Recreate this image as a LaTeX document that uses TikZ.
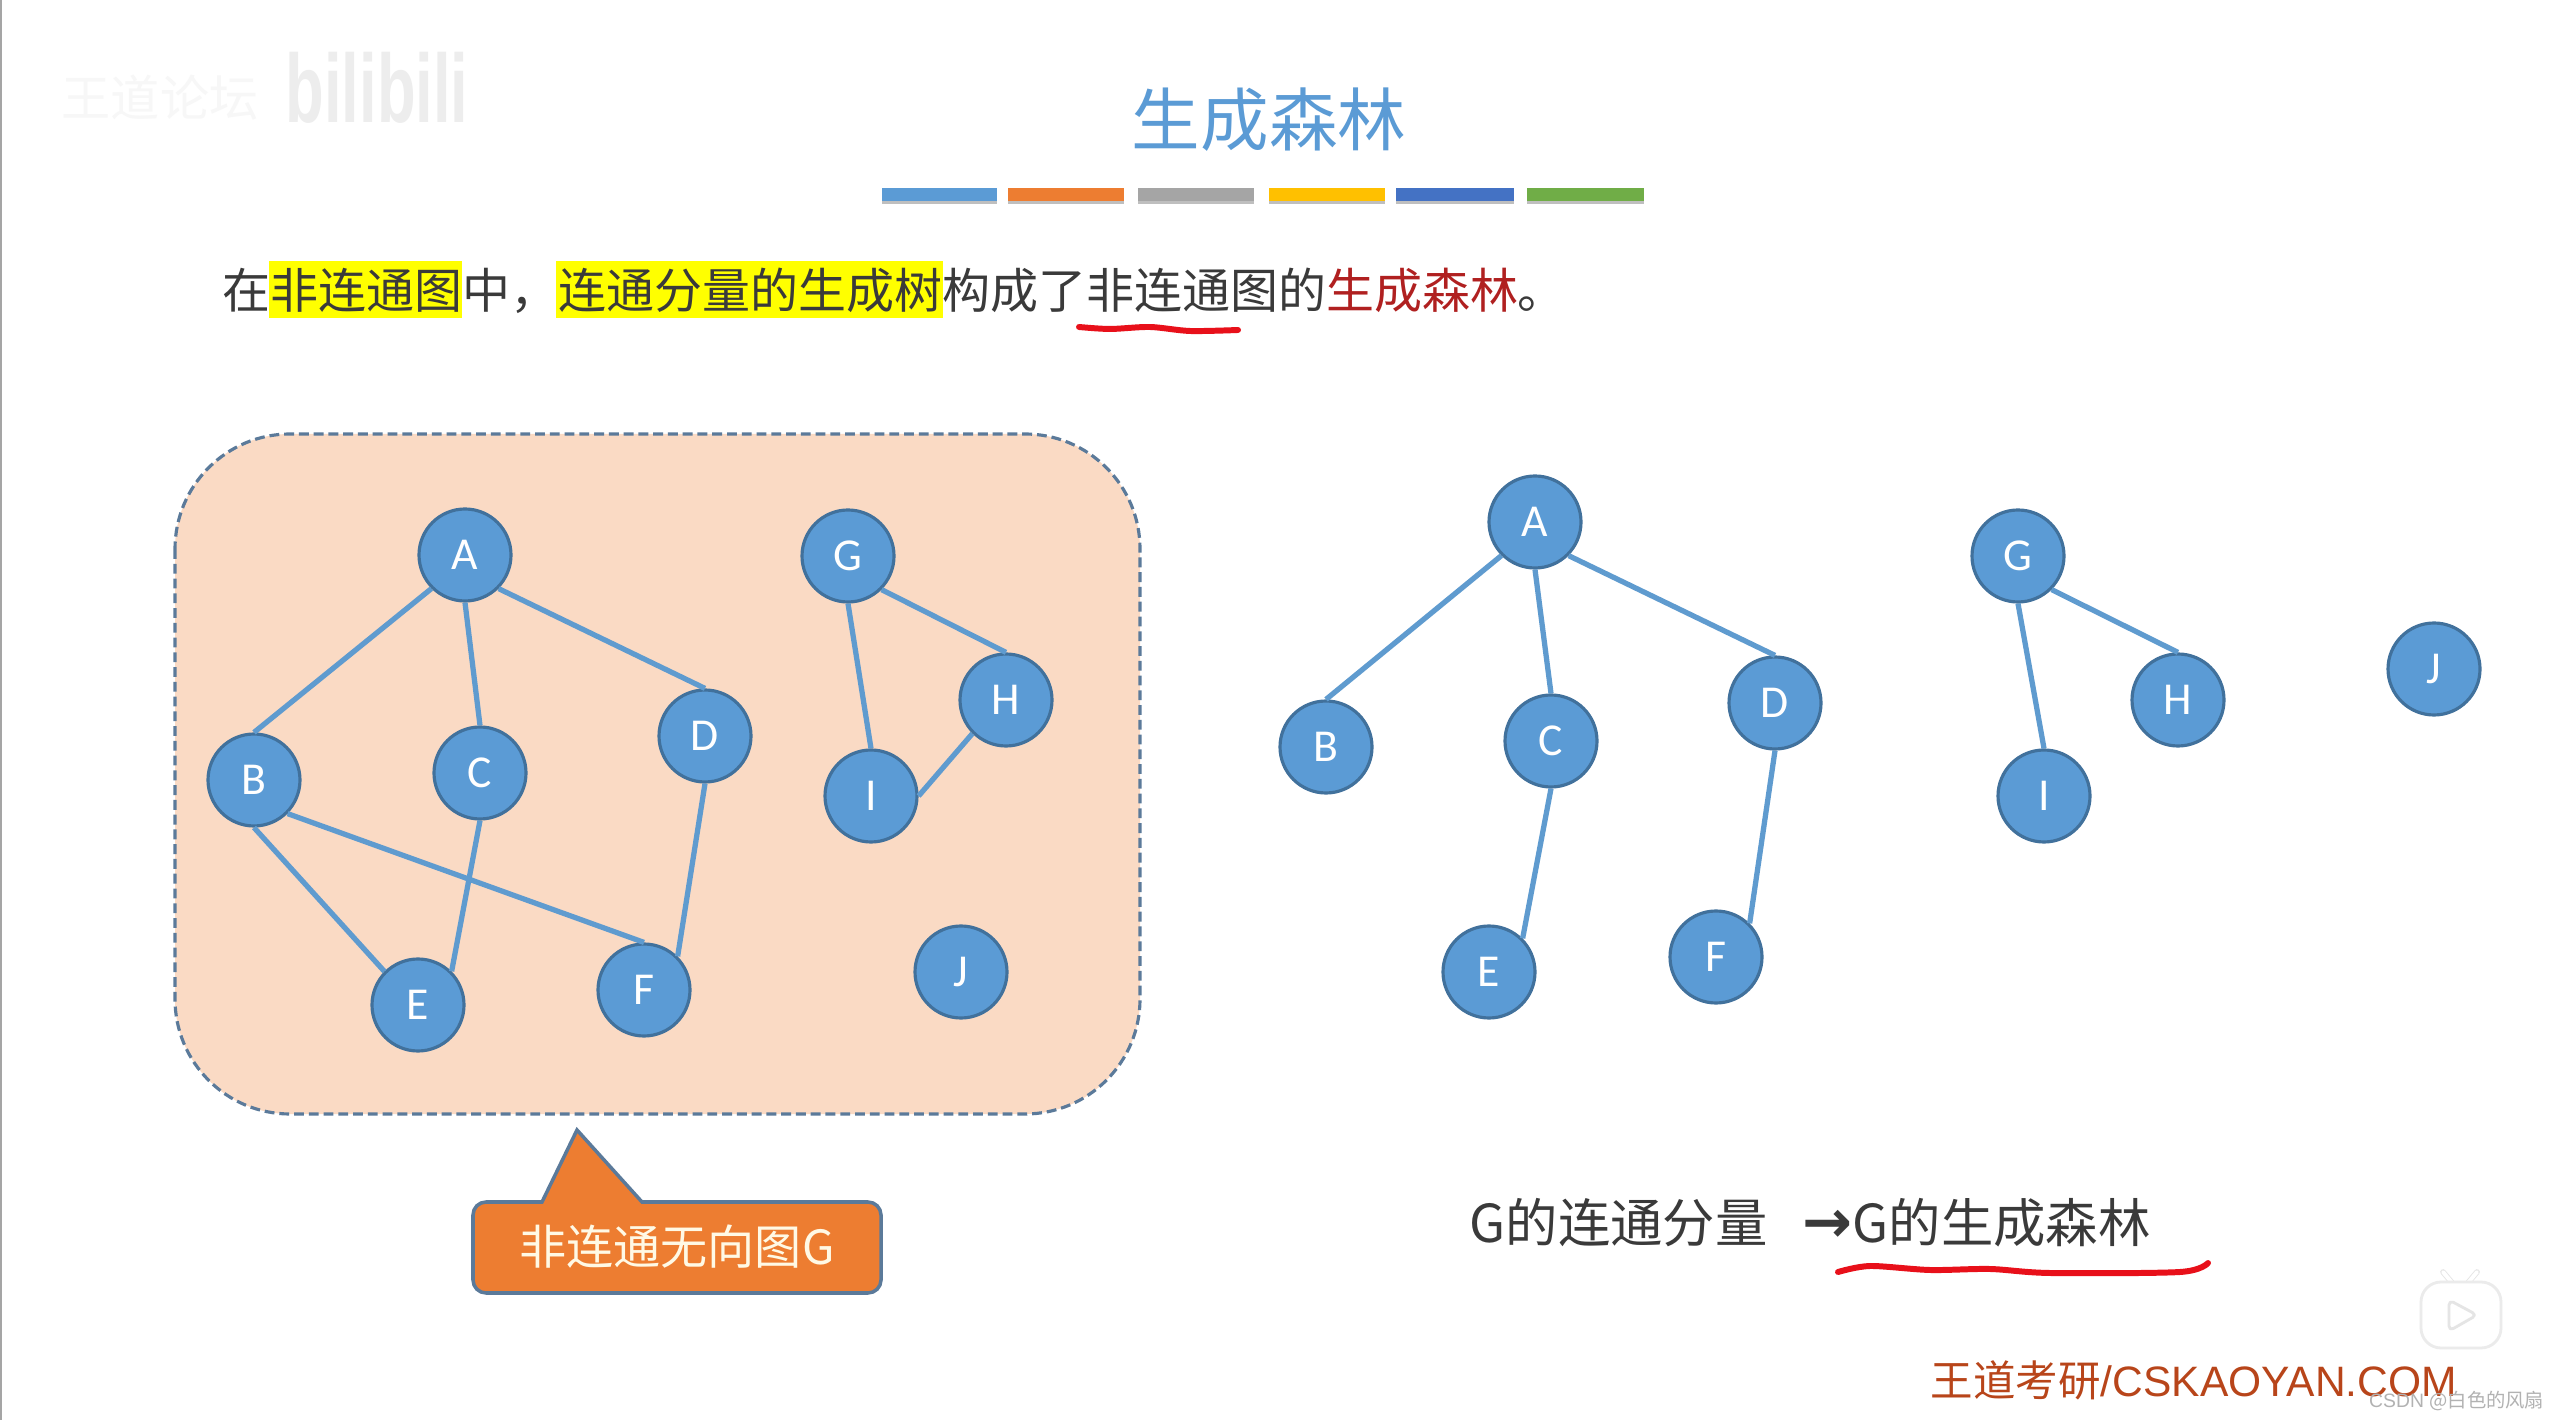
\documentclass[tikz,border=0pt]{standalone}
\usepackage{fontspec}
\setmainfont{Noto Sans CJK SC}
\newfontfamily\latinfont{Carlito}
\newfontfamily\arialfont{Liberation Sans}
\usepackage{xcolor}
\usetikzlibrary{positioning, arrows.meta, calc, backgrounds}
\definecolor{barBlue}    {HTML}{5B9BD5}
\definecolor{barOrange}  {HTML}{ED7D31}
\definecolor{barGray}    {HTML}{A5A5A5}
\definecolor{barGold}    {HTML}{FFC000}
\definecolor{barNavy}    {HTML}{4472C4}
\definecolor{barGreen}   {HTML}{70AD47}
\definecolor{cRegion}    {HTML}{FADAC4}
\definecolor{cBorder}    {HTML}{5B7A9A}
\definecolor{cNodeEdge}  {HTML}{41719C}
\definecolor{cLine}      {HTML}{5F9BCF}
\definecolor{cMark}      {HTML}{FFFF00}
\definecolor{cForest}    {HTML}{B02020}
\definecolor{cInk}       {HTML}{3A3A3A}
\definecolor{cPen}       {HTML}{E8101A}
\definecolor{cBrand}     {HTML}{B8451A}
\newlength{\unitlen}
\setlength{\unitlen}{0.1mm}
\tikzset{
  vertex/.style={circle, draw=cNodeEdge, line width=0.9pt, fill=barBlue, text=white,
    minimum size=92\unitlen, inner sep=0pt, font=\latinfont\fontsize{13}{13}\selectfont},
  link/.style={draw=cLine, line width=1.5pt},
  pen/.style={draw=cPen, line width=1.7pt, line cap=round, line join=round},
  bodytext/.style={text=cInk, inner sep=0pt, anchor=base west},
}
\begin{document}
\begin{tikzpicture}[x=0.1mm, y=-0.1mm]
  \useasboundingbox (0,0) rectangle (2558,1420);
  \fill[white] (0,0) rectangle (2558,1420);
  \draw[barGray, line width=0.8pt] (1,0) -- (1,1420);

  % faint channel mark
  \node[text=black!3, inner sep=0pt, font=\fontsize{14}{14}\selectfont] (channel) at (160,98) {王道论坛};
  \node[text=black!7, inner sep=0pt, xscale=.75, yscale=1.15, font=\arialfont\bfseries\fontsize{24}{24}\selectfont] (site) at (377,88) {bilibili};

  % title and colour bars
  \node[text=barBlue, inner sep=0pt, font=\fontsize{19.5}{19.5}\selectfont] (title) at (1269,120) {生成森林};
  \foreach \x/\w/\c in {882/115/barBlue, 1008/116/barOrange, 1138/116/barGray,
                        1269/116/barGold, 1396/118/barNavy, 1527/117/barGreen}{
    \fill[black!25] (\x,191) rectangle (\x+\w,204);
    \fill[\c] (\x,188) rectangle (\x+\w,201);
  }

  % sentence with its highlights
  \fill[cMark] (269,261) rectangle (462,318);
  \fill[cMark] (556,261) rectangle (943,318);
  \node[bodytext, font=\fontsize{13.65}{13.65}\selectfont] (sentence) at (222,309)
    {在非连通图中，连通分量的生成树构成了非连通图的\textcolor{cForest}{生成森林}。};
  \draw[pen] plot[smooth] coordinates {(1079,327) (1110,329) (1150,327) (1190,331) (1238,330)};

  % graph G
  \draw[draw=cBorder, fill=cRegion, line width=0.9pt, dash pattern=on 2.8pt off 1.4pt, rounded corners=115\unitlen]
    (175,434) rectangle (1140,1114);
  \foreach \n/\x/\y in {A/465/555, B/254/780, C/480/773, D/705/736, E/418/1005,
                        F/644/990, G/848/556, H/1006/700, I/871/796, J/961/972}{
    \node[vertex] (l\n) at (\x,\y) {\n};
  }
  \foreach \a/\p/\b/\q in {A/south west/B/north, A/south/C/north, A/south east/D/north,
                           B/south/E/north west, B/south east/F/north, C/south/E/north east,
                           D/south/F/north east, G/south east/H/north, G/south/I/north,
                           H/south west/I/east}{
    \draw[link] (l\a.\p) -- (l\b.\q);
  }

  % spanning forest
  \foreach \n/\x/\y in {A/1535/522, B/1326/747, C/1551/741, D/1775/703, E/1489/972,
                        F/1716/957, G/2018/556, H/2178/700, I/2044/796, J/2434/669}{
    \node[vertex] (r\n) at (\x,\y) {\n};
  }
  \foreach \a/\p/\b/\q in {A/south west/B/north, A/south/C/north, A/south east/D/north,
                           C/south/E/north east, D/south/F/north east,
                           G/south east/H/north, G/south/I/north}{
    \draw[link] (r\a.\p) -- (r\b.\q);
  }

  % callout under the region
  \draw[draw=cBorder, fill=barOrange, line width=1pt]
    (642,1202) [rounded corners=13\unitlen] -- (881,1202) -- (881,1293) -- (473,1293) -- (473,1202)
    [sharp corners] -- (542,1202) -- (577,1130) -- cycle;
  \node[text=white!90!barGold, inner sep=0pt, font=\fontsize{13.4}{13.4}\selectfont] (calloutlabel) at (677,1247) {非连通无向图G};

  % bottom line
  \node[bodytext, font=\fontsize{14.9}{14.9}\selectfont] (summary) at (1469,1242)
    {G的连通分量};
  \node[bodytext, font=\fontsize{14.9}{14.9}\selectfont, anchor=base west] (result) at (1802,1242)
    {{\fontspec{DejaVu Sans}\bfseries\fontsize{17}{17}\selectfont →}G的生成森林};
  \draw[pen] plot[smooth] coordinates {(1838,1272) (1870,1266) (1930,1270) (1990,1269) (2050,1273) (2180,1272) (2208,1263)};

  % player badge
  \draw[black!10, line width=1.6pt, line cap=round] (2453,1284) -- (2443,1272);
  \draw[black!10, line width=1.6pt, line cap=round] (2467,1284) -- (2477,1272);
  \draw[white, line width=1.1pt, line cap=round] (2453,1284) -- (2443,1272);
  \draw[white, line width=1.1pt, line cap=round] (2467,1284) -- (2477,1272);
  \draw[black!8, fill=white, line width=0.8pt, rounded corners=20\unitlen] (2421,1282) rectangle (2501,1348);
  \draw[black!10, fill=white, line width=0.8pt, line join=round, rounded corners=5\unitlen]
    (2449,1300) -- (2477,1315) -- (2449,1331) -- cycle;

  \node[text=cBrand, inner sep=0pt, anchor=base west, font=\fontsize{12.1}{12.1}\selectfont] (brand) at (1930,1396)
    {王道考研\arialfont/CSKAOYAN.COM};
  \node[text=black!30, inner sep=0pt, anchor=base east, font=\fontsize{5.5}{5.5}\selectfont] (credit) at (2545,1407)
    {\arialfont CSDN \rmfamily @白色的风扇};
\end{tikzpicture}
\end{document}
